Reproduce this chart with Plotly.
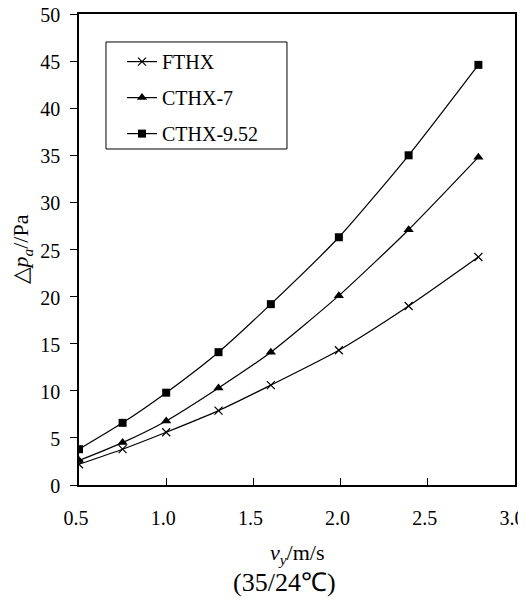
import plotly.graph_objects as go

x_fthx = [0.5, 0.75, 1.0, 1.3, 1.6, 1.99, 2.39, 2.79]
y_fthx = [2.2, 3.8, 5.6, 7.9, 10.6, 14.3, 19.0, 24.2]
x_c7 = [0.5, 0.75, 1.0, 1.3, 1.6, 1.99, 2.39, 2.79]
y_c7 = [2.6, 4.5, 6.8, 10.3, 14.1, 20.1, 27.1, 34.8]
x_c952 = [0.5, 0.75, 1.0, 1.3, 1.6, 1.99, 2.39, 2.79]
y_c952 = [3.8, 6.6, 9.8, 14.1, 19.2, 26.3, 35.0, 44.6]
names = ["FTHX", "CTHX-7", "CTHX-9.52"]
x_ticks = [0.5, 1.0, 1.5, 2.0, 2.5, 3.0]
y_ticks = [0, 5, 10, 15, 20, 25, 30, 35, 40, 45, 50]

FONT = "Liberation Serif, Times New Roman, serif"
fig = go.Figure()
series = [
    (x_fthx, y_fthx, names[0], dict(symbol="x-thin", size=8, line=dict(width=1.2, color="black"))),
    (x_c7, y_c7, names[1], dict(symbol="triangle-up", size=9, color="black")),
    (x_c952, y_c952, names[2], dict(symbol="square", size=8, color="black")),
]
for i, (xs, ys, nm, mk) in enumerate(series):
    fig.add_trace(go.Scatter(x=xs, y=ys, name=nm, mode="lines+markers", legendgroup=f"g{i}",
                             line=dict(color="black", width=1.2, shape="spline", smoothing=0.6),
                             marker=mk))

# legend frame
fig.add_shape(type="rect", xref="paper", yref="paper", x0=0.0619, x1=0.477, y0=0.7134, y1=0.9406,
              line=dict(color="black", width=1), fillcolor="rgba(0,0,0,0)", layer="above")

fig.update_layout(
    width=526, height=600,
    margin=dict(l=71, r=19, t=6, b=123, autoexpand=False),
    paper_bgcolor="white", plot_bgcolor="white",
    font=dict(family=FONT, size=20, color="black"),
    showlegend=True,
    legend=dict(x=0.0986, y=0.9403, xanchor="left", yanchor="top",
                borderwidth=0, bgcolor="rgba(0,0,0,0)",
                font=dict(family=FONT, size=20), itemwidth=30,
                tracegroupgap=7),
    xaxis=dict(range=[0.5, 3.0], tickvals=x_ticks, tickformat=".1f", automargin=False,
               ticks="inside", ticklen=7, tickcolor="black", tickwidth=1,
               showline=True, linecolor="black", linewidth=1.5, mirror=True,
               showgrid=False, zeroline=False, ticklabelstandoff=14,
               ticklabelshift=-3, ticklabeloverflow="allow",
               tickfont=dict(family=FONT, size=20)),
    yaxis=dict(range=[0, 50], tickvals=y_ticks, automargin=False,
               ticks="outside", ticklen=7, tickcolor="black", tickwidth=1,
               showline=True, linecolor="black", linewidth=1.5, mirror=True,
               showgrid=False, zeroline=False, ticklabelstandoff=6,
               ticklabelshift=1, ticklabeloverflow="allow",
               tickfont=dict(family=FONT, size=20),
               title=dict(text="△<i>p<sub>a</sub></i>//Pa", font=dict(family=FONT, size=22), standoff=7)),
)
fig.add_annotation(x=0.5, y=0, xref="paper", yref="paper", yshift=-69,
                   text="<i>v<sub>y</sub></i>/m/s", showarrow=False,
                   font=dict(family=FONT, size=22), xanchor="center", yanchor="middle")
fig.add_annotation(x=0.5, y=0, xref="paper", yref="paper", xshift=-13, yshift=-97,
                   text="(35/24℃)", showarrow=False,
                   font=dict(family=FONT, size=26), xanchor="center", yanchor="middle")
fig.write_html("out.html")
